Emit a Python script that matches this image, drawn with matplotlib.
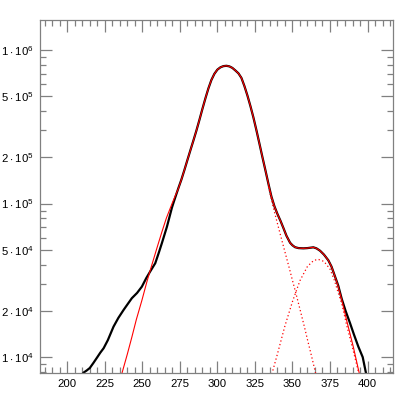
import matplotlib
matplotlib.use("Agg")
import matplotlib.pyplot as plt
from matplotlib.ticker import MultipleLocator, FixedLocator, FixedFormatter, LogLocator, NullFormatter

plt.rcParams['font.family'] = ['Liberation Sans', 'DejaVu Sans']
plt.rcParams['mathtext.fontset'] = 'custom'
plt.rcParams['mathtext.rm'] = 'Liberation Sans'

# measured spectrum (black)
data_x = [209, 211, 213, 215, 217.5, 220, 222, 224.2, 227, 230.8, 234, 237.5, 240, 243, 246.5,
          249.7, 252.6, 255.5, 258.6, 261, 263, 266.4, 269.7, 271, 272.5, 274, 276, 278, 280, 282,
          284, 286, 288, 290, 292, 294, 296, 298, 300, 302, 304, 306, 308, 310, 312, 314, 316, 318,
          320, 322, 324, 326, 328, 330, 332, 334, 336, 338, 340, 342, 344, 346, 348.4, 350, 351.7,
          354, 357.3, 360, 362, 363.9, 366, 368.4, 371, 373.9, 376, 378.4, 380.5, 382.8, 385.4,
          388.4, 391, 393.9, 396.8, 399, 400.5]
data_y = [7.5e3, 7.95e3, 8.2e3, 8.5e3, 9.2e3, 1.0e4, 1.07e4, 1.143e4, 1.29e4, 1.58e4, 1.8e4, 2.03e4,
          2.2e4, 2.42e4, 2.62e4, 2.88e4, 3.27e4, 3.65e4, 4.09e4, 4.8e4, 5.52e4, 7.08e4, 9.4e4,
          1.03e5, 1.14e5, 1.26e5, 1.432e5, 1.652e5, 1.919e5, 2.223e5, 2.57e5, 2.985e5, 3.5e5,
          4.13e5, 4.84e5, 5.62e5, 6.38e5, 7.0e5, 7.45e5, 7.71e5, 7.85e5, 7.89e5, 7.82e5, 7.64e5,
          7.35e5, 7.05e5, 6.58e5, 5.82e5, 5.05e5, 4.31e5, 3.63e5, 3.0e5, 2.455e5, 2.004e5, 1.644e5,
          1.343e5, 1.109e5, 9.59e4, 8.55e4, 7.73e4, 6.92e4, 6.17e4, 5.56e4, 5.35e4, 5.2e4, 5.13e4,
          5.11e4, 5.13e4, 5.16e4, 5.19e4, 5.11e4, 4.93e4, 4.65e4, 4.27e4, 3.89e4, 3.34e4, 2.92e4,
          2.4e4, 2.0e4, 1.66e4, 1.4e4, 1.17e4, 1.0e4, 7.85e3, 7.2e3]

# total fit (red solid)
fit_x = [235, 236.4, 240, 243, 246, 249.7, 253, 256, 259.7, 263, 266, 268, 270, 272, 274, 276, 278,
         280, 282, 284, 286, 288, 290, 292, 294, 296, 298, 300, 302, 304, 306, 308, 310, 312, 314,
         316, 318, 320, 322, 324, 326, 328, 330, 332, 334, 336, 338, 340, 342, 344, 346, 348.4, 350,
         351.7, 354, 357.3, 360, 362, 363.9, 366, 368.4, 371, 373.9, 376, 378.4, 380.5, 382.8,
         386.2, 390.6, 394.5, 396]
fit_y = [7.2e3, 7.85e3, 1.047e4, 1.349e4, 1.758e4, 2.344e4, 3.09e4, 3.89e4, 5.13e4, 6.53e4, 8.04e4,
         9.02e4, 1.012e5, 1.127e5, 1.253e5, 1.432e5, 1.652e5, 1.919e5, 2.223e5, 2.57e5, 2.985e5,
         3.5e5, 4.13e5, 4.84e5, 5.62e5, 6.38e5, 7.0e5, 7.45e5, 7.71e5, 7.85e5, 7.89e5, 7.82e5,
         7.64e5, 7.35e5, 7.05e5, 6.58e5, 5.82e5, 5.05e5, 4.31e5, 3.63e5, 3.0e5, 2.455e5, 2.004e5,
         1.644e5, 1.343e5, 1.109e5, 9.59e4, 8.55e4, 7.73e4, 6.92e4, 6.17e4, 5.56e4, 5.35e4, 5.2e4,
         5.13e4, 5.11e4, 5.13e4, 5.16e4, 5.19e4, 5.11e4, 4.93e4, 4.65e4, 4.27e4, 3.89e4, 3.34e4,
         2.88e4, 2.37e4, 1.72e4, 1.16e4, 7.85e3, 6.76e3]

# fit components (red dotted)
comp1_x = [334, 336, 338, 340, 342, 345, 348, 350, 352.4, 355, 358, 360, 363, 365, 367]
comp1_y = [1.29e5, 1.06e5, 8.81e4, 7.41e4, 6.24e4, 4.84e4, 3.76e4, 3.16e4, 2.58e4, 2.05e4, 1.57e4,
           1.3e4, 9.89e3, 8.18e3, 6.76e3]
comp2_x = [334, 336, 340, 345, 350, 355, 360, 364, 367, 371, 375, 378, 380, 383, 386, 390, 394, 398]
comp2_y = [6.6e3, 7.6e3, 1.05e4, 1.6e4, 2.3e4, 3.15e4, 3.9e4, 4.25e4, 4.34e4, 4.2e4, 3.75e4,
           3.15e4, 2.72e4, 2.2e4, 1.63e4, 1.15e4, 8.0e3, 5.5e3]

ytick_vals = [1e4, 2e4, 5e4, 1e5, 2e5, 5e5, 1e6]
ytick_labels = [r'$1\cdot10^{4}$', r'$2\cdot10^{4}$', r'$5\cdot10^{4}$', r'$1\cdot10^{5}$',
                r'$2\cdot10^{5}$', r'$5\cdot10^{5}$', r'$1\cdot10^{6}$']

fig = plt.figure(figsize=(4.07, 4.07), dpi=100)
ax = fig.add_axes([0.0971, 0.0828, 0.8686, 0.868])

ax.plot(data_x, data_y, color='black', lw=1.6)
ax.plot(fit_x, fit_y, color='red', lw=0.8)
ax.plot(comp1_x, comp1_y, color='red', lw=0.9, linestyle=(0, (1, 2)))
ax.plot(comp2_x, comp2_y, color='red', lw=0.9, linestyle=(0, (1, 2)))

ax.set_yscale('log')
ax.set_xlim(181.5, 417)
ax.set_ylim(7.85e3, 1.567e6)

ax.xaxis.set_major_locator(MultipleLocator(25))
ax.xaxis.set_minor_locator(MultipleLocator(5))
ax.yaxis.set_major_locator(FixedLocator(ytick_vals))
ax.yaxis.set_major_formatter(FixedFormatter(ytick_labels))
ax.yaxis.set_minor_locator(LogLocator(base=10, subs=[3, 4, 6, 7, 8, 9]))
ax.yaxis.set_minor_formatter(NullFormatter())

for s in ax.spines.values():
    s.set_color('0.5')
    s.set_linewidth(0.9)
ax.tick_params(which='both', direction='in', top=True, right=True, color='0.5', width=0.9,
               labelsize=8.2, pad=4)
ax.tick_params(which='major', length=8.5)
ax.tick_params(which='minor', length=4.3)

fig.savefig('out.png', dpi=100)
